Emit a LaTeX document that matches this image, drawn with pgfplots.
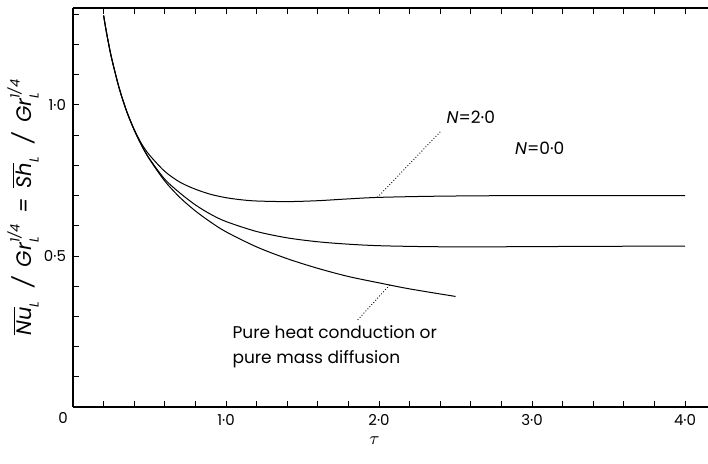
\documentclass[border=0pt]{standalone}
\usepackage{fontspec}
\setmainfont{Poppins}
\usepackage{pgfplots}
\pgfplotsset{compat=1.18}
\usetikzlibrary{calc}
\newcommand\ovl[1]{\ensuremath{\overline{\mbox{#1}}}}
\newcommand\subsup[2]{\makebox[0pt][l]{\raisebox{-0.6ex}{\fontsize{6.5}{7}\selectfont #1}}\raisebox{1.05ex}{\fontsize{6.5}{7}\selectfont #2}}
\newcommand\sub[1]{\raisebox{-0.6ex}{\fontsize{6.5}{7}\selectfont #1}}
\begin{document}
\begin{tikzpicture}
\begin{axis}[
  scale only axis,
  width=317.5pt, height=199.5pt,
  xmin=0, xmax=4.15, ymin=0, ymax=1.321,
  axis line style={draw=none},
  xtick={1,2,3,4}, xticklabels={1·0,2·0,3·0,4·0},
  minor xtick={0.2,0.4,0.6,0.8,1.2,1.4,1.6,1.8,2.2,2.4,2.6,2.8,3.2,3.4,3.6,3.8,4.0},
  ytick={0.5,1}, yticklabels={0·5,1·0},
  minor ytick={0.1,0.2,0.3,0.4,0.6,0.7,0.8,0.9,1.1,1.2,1.3},
  xtick pos=both, ytick pos=left,
  tick align=inside,
  major tick length=3pt, minor tick length=3pt,
  tick style={black, line width=0.45pt},
  ticklabel style={font=\fontsize{7.5}{9}\selectfont},
  clip=false,
]
\draw[line width=1.3pt] (rel axis cs:0,0) -- (rel axis cs:1,0);
\draw[line width=1.3pt] (rel axis cs:0,0) -- (rel axis cs:0,1);
\draw[line width=0.7pt] (rel axis cs:0,1) -- (rel axis cs:1,1);
\coordinate (BL) at (rel axis cs:0,0);
\coordinate (TR) at (rel axis cs:1,1);

% N = 2.0
\addplot[black, line width=0.5pt, smooth] coordinates {
(0.2,1.296)(0.22,1.237)(0.25,1.160)(0.3,1.059)(0.35,0.980)(0.4,0.919)(0.45,0.870)(0.5,0.834)(0.6,0.780)(0.7,0.744)(0.8,0.721)(0.9,0.704)(1.0,0.693)(1.1,0.686)(1.2,0.682)(1.4,0.680)(1.6,0.683)(1.8,0.689)(2.0,0.694)(2.4,0.698)(3.0,0.700)(4.0,0.700)};
% N = 0.0
\addplot[black, line width=0.5pt, smooth] coordinates {
(0.2,1.296)(0.22,1.237)(0.25,1.160)(0.3,1.059)(0.35,0.980)(0.4,0.917)(0.45,0.865)(0.5,0.822)(0.6,0.754)(0.7,0.708)(0.8,0.669)(0.9,0.638)(1.0,0.614)(1.2,0.581)(1.4,0.560)(1.6,0.547)(1.8,0.539)(2.0,0.534)(2.3,0.531)(2.6,0.530)(3.0,0.531)(3.5,0.532)(4.0,0.533)};
% pure conduction / diffusion
\addplot[black, line width=0.5pt, smooth] coordinates {
(0.2,1.296)(0.22,1.237)(0.25,1.160)(0.3,1.059)(0.35,0.980)(0.4,0.917)(0.45,0.864)(0.5,0.820)(0.6,0.748)(0.7,0.693)(0.8,0.649)(0.9,0.612)(1.0,0.580)(1.2,0.530)(1.4,0.491)(1.6,0.459)(1.8,0.432)(2.0,0.411)(2.2,0.391)(2.5,0.366)};

\node[font=\fontsize{8.5}{10}\selectfont] at (axis cs:2.6,0.960) {\textit{N}=2·0};
\node[font=\fontsize{8.5}{10}\selectfont] at (axis cs:3.05,0.858) {\textit{N}=0·0};
\draw[densely dotted, line width=0.45pt] (axis cs:2.40,0.911) -- (axis cs:1.99,0.694);
\draw[densely dotted, line width=0.45pt] (axis cs:2.07,0.404) -- (axis cs:1.86,0.288);
\node[align=left, anchor=north west, inner sep=0pt, font=\fontsize{8.5}{12.5}\selectfont] at (axis cs:1.04,0.272) {Pure heat conduction or\\pure mass diffusion};
\node[font=\fontsize{7.5}{9}\selectfont] at (axis cs:-0.065,-0.036) {0};
\node[font=\fontsize{9}{10}\selectfont] at (axis cs:1.97,-0.113) {$\tau$};
\node[rotate=90, font=\fontsize{10.5}{12}\selectfont] at ($(axis cs:0,0.66)+(-25pt,0)$)
 {\itshape \ovl{Nu}\sub{L}\enspace\,/\enspace Gr\subsup{L}{1/4}\enspace=\enspace\ovl{Sh}\sub{L}\enspace\,/\enspace Gr\subsup{L}{1/4}};
\end{axis}
\pgfresetboundingbox
\path ($(BL)+(-36.5pt,-28.5pt)$) rectangle ($(TR)+(0,4pt)$);
\end{tikzpicture}
\end{document}
